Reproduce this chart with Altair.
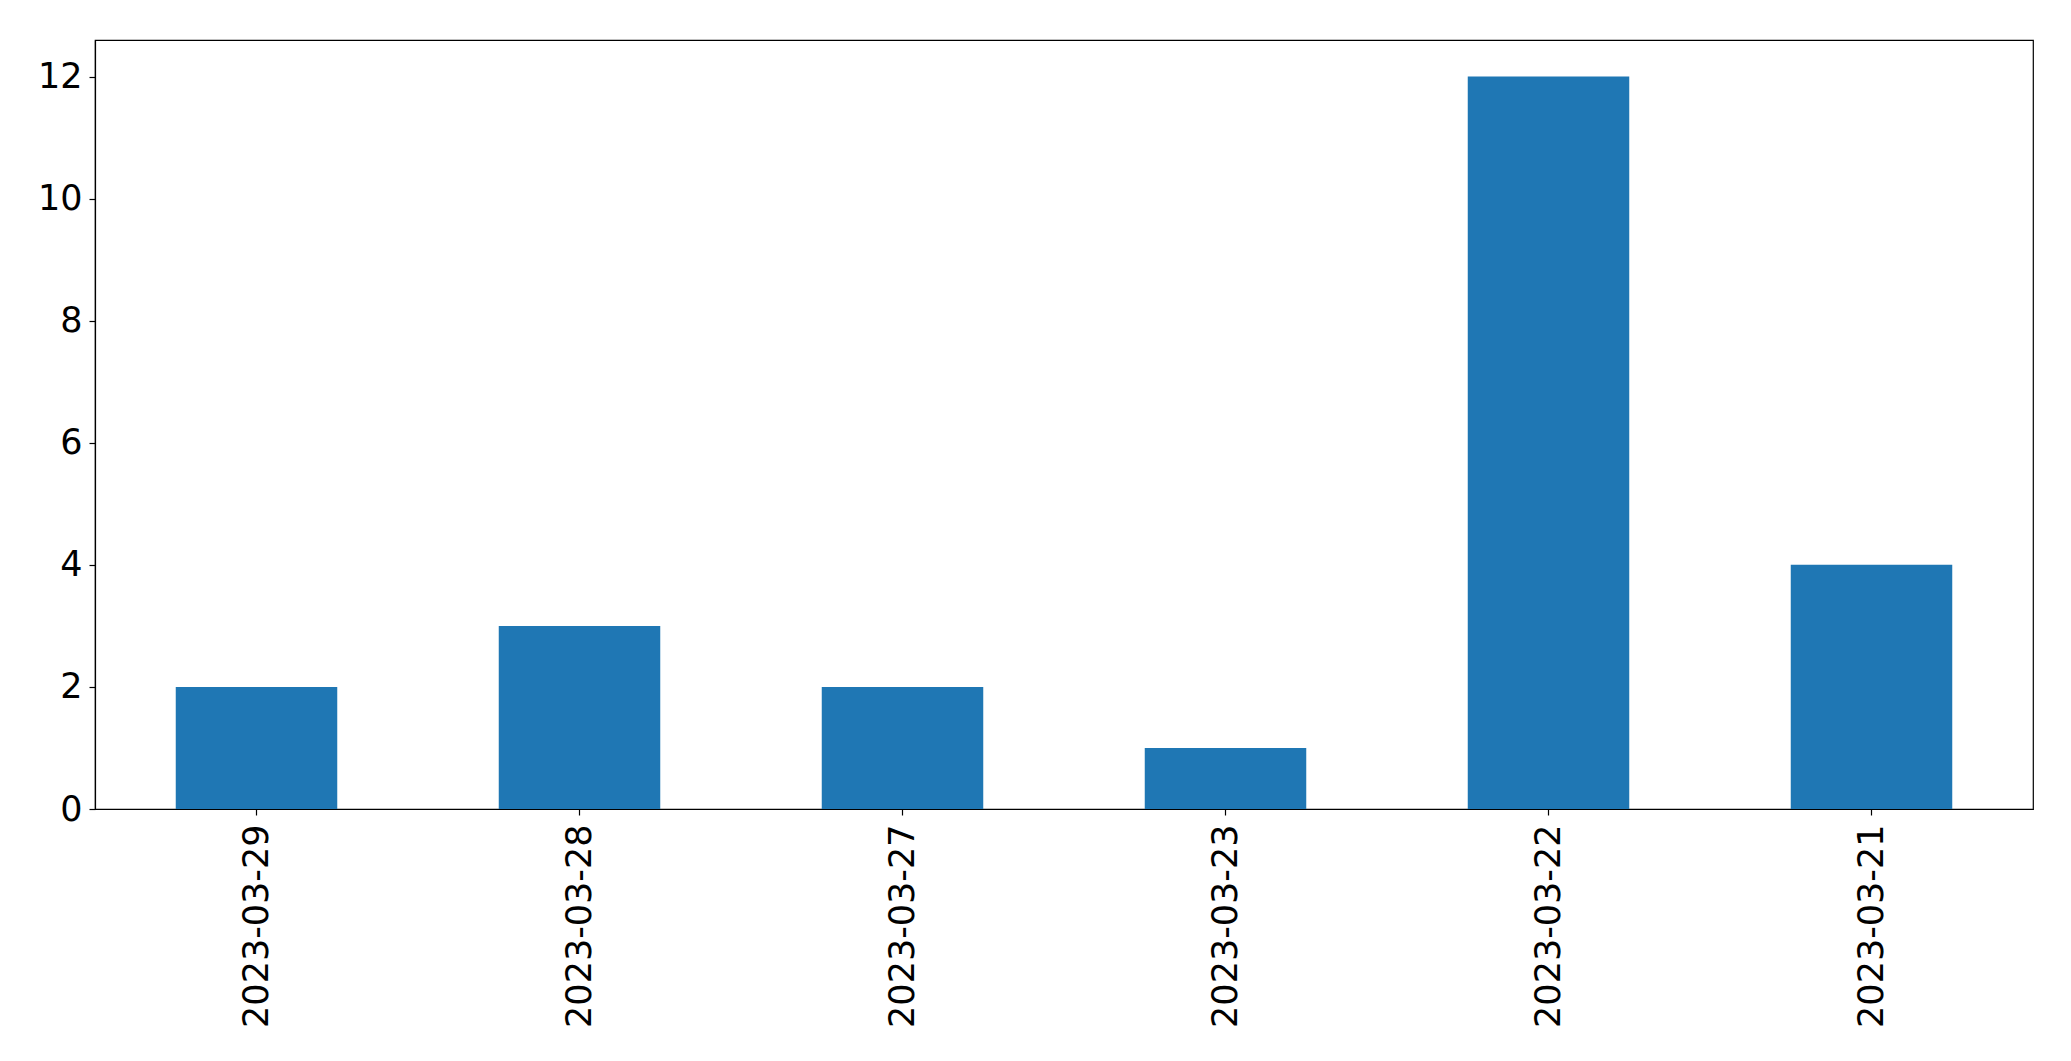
import altair as alt
import pandas as pd

dates = ["2023-03-29", "2023-03-28", "2023-03-27", "2023-03-23", "2023-03-22", "2023-03-21"]
counts = [2, 3, 2, 1, 12, 4]

df = pd.DataFrame({"date": dates, "count": counts})

FONT = "DejaVu Sans"

chart = alt.Chart(df).mark_bar(color="#1f77b4").encode(
    x=alt.X("date:N", sort=dates, title=None,
            scale=alt.Scale(paddingInner=0.5, paddingOuter=0.25),
            axis=alt.Axis(labelAngle=270, labelFontSize=35, labelFont=FONT, labelLimit=0,
                          labelColor="black", tickColor="black", domainColor="black",
                          tickSize=6, labelPadding=9, tickWidth=1.2, domainWidth=1.2)),
    y=alt.Y("count:Q", title=None,
            scale=alt.Scale(domain=[0, 12.6], nice=False),
            axis=alt.Axis(values=[0, 2, 4, 6, 8, 10, 12], grid=False, labelFontSize=35,
                          labelFont=FONT, labelColor="black", tickColor="black",
                          domainColor="black", tickSize=6, labelPadding=7,
                          tickWidth=1.2, domainWidth=1.2)),
).properties(
    width=1938, height=769,
    autosize=alt.AutoSizeParams(type="none"),
    padding={"left": 87, "top": 32, "right": 30, "bottom": 240},
).configure_view(stroke="black", strokeWidth=1.2)

chart.save("out.html", embed_options={"renderer": "svg", "actions": False})
